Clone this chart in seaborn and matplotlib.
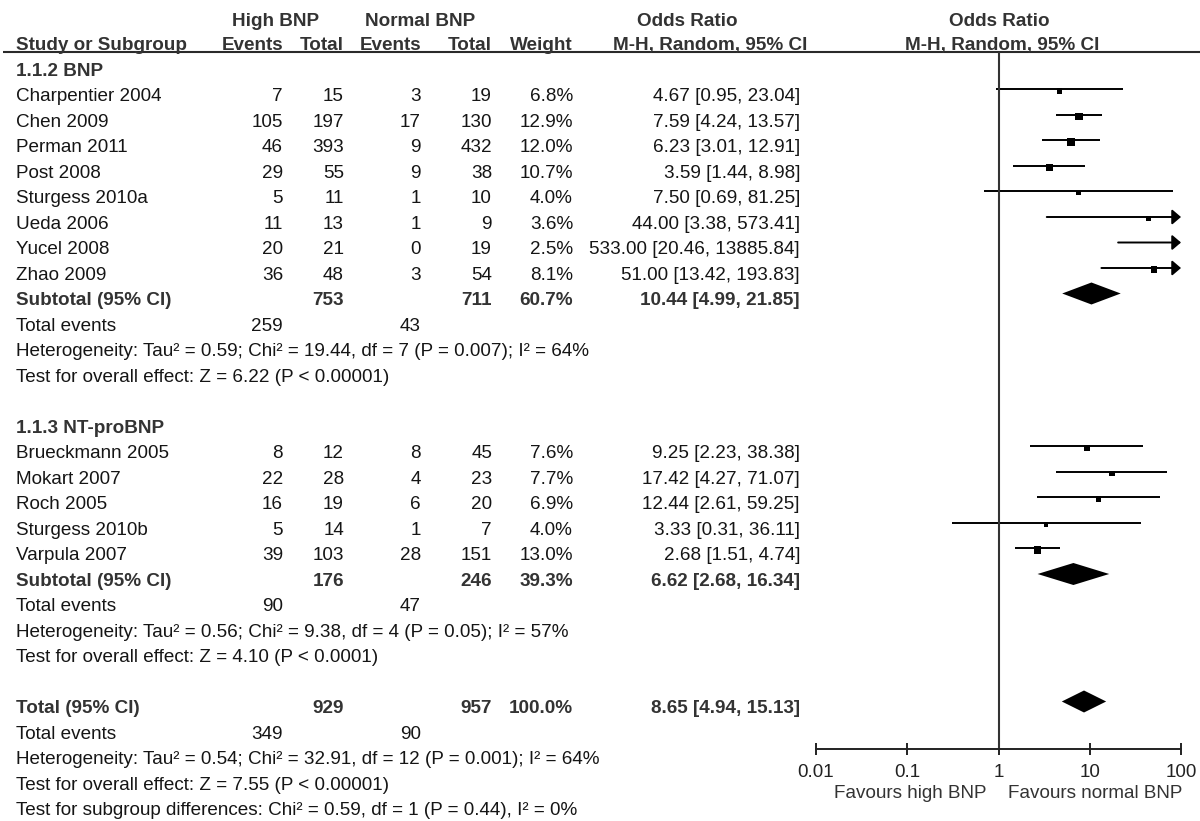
import numpy as np
import pandas as pd
import matplotlib
matplotlib.use("Agg")
import matplotlib.pyplot as plt
from matplotlib.ticker import NullLocator, FixedLocator, FixedFormatter
import seaborn as sns

# ---------------- data ----------------
bnp_studies = ["Charpentier 2004", "Chen 2009", "Perman 2011", "Post 2008",
               "Sturgess 2010a", "Ueda 2006", "Yucel 2008", "Zhao 2009"]
bnp_ev_high = [7, 105, 46, 29, 5, 11, 20, 36]
bnp_tot_high = [15, 197, 393, 55, 11, 13, 21, 48]
bnp_ev_norm = [3, 17, 9, 9, 1, 1, 0, 3]
bnp_tot_norm = [19, 130, 432, 38, 10, 9, 19, 54]
bnp_weight = [6.8, 12.9, 12.0, 10.7, 4.0, 3.6, 2.5, 8.1]
bnp_or = [4.67, 7.59, 6.23, 3.59, 7.50, 44.00, 533.00, 51.00]
bnp_lo = [0.95, 4.24, 3.01, 1.44, 0.69, 3.38, 20.46, 13.42]
bnp_hi = [23.04, 13.57, 12.91, 8.98, 81.25, 573.41, 13885.84, 193.83]

nt_studies = ["Brueckmann 2005", "Mokart 2007", "Roch 2005", "Sturgess 2010b", "Varpula 2007"]
nt_ev_high = [8, 22, 16, 5, 39]
nt_tot_high = [12, 28, 19, 14, 103]
nt_ev_norm = [8, 4, 6, 1, 28]
nt_tot_norm = [45, 23, 20, 7, 151]
nt_weight = [7.6, 7.7, 6.9, 4.0, 13.0]
nt_or = [9.25, 17.42, 12.44, 3.33, 2.68]
nt_lo = [2.23, 4.27, 2.61, 0.31, 1.51]
nt_hi = [38.38, 71.07, 59.25, 36.11, 4.74]

# subtotals: [BNP, NT-proBNP, Total]
sub_labels = ["Subtotal (95% CI)", "Subtotal (95% CI)", "Total (95% CI)"]
sub_tot_high = [753, 176, 929]
sub_tot_norm = [711, 246, 957]
sub_weight = ["60.7%", "39.3%", "100.0%"]
sub_or = [10.44, 6.62, 8.65]
sub_lo = [4.99, 2.68, 4.94]
sub_hi = [21.85, 16.34, 15.13]
sub_events_high = [259, 90, 349]
sub_events_norm = [43, 47, 90]
sub_het = ["Heterogeneity: Tau\u00b2 = 0.59; Chi\u00b2 = 19.44, df = 7 (P = 0.007); I\u00b2 = 64%",
           "Heterogeneity: Tau\u00b2 = 0.56; Chi\u00b2 = 9.38, df = 4 (P = 0.05); I\u00b2 = 57%",
           "Heterogeneity: Tau\u00b2 = 0.54; Chi\u00b2 = 32.91, df = 12 (P = 0.001); I\u00b2 = 64%"]
sub_test = ["Test for overall effect: Z = 6.22 (P < 0.00001)",
            "Test for overall effect: Z = 4.10 (P < 0.0001)",
            "Test for overall effect: Z = 7.55 (P < 0.00001)"]
subgroup_test = "Test for subgroup differences: Chi\u00b2 = 0.59, df = 1 (P = 0.44), I\u00b2 = 0%"
group_titles = ["1.1.2 BNP", "1.1.3 NT-proBNP"]

tick_values = [0.01, 0.1, 1, 10, 100]
tick_labels = ["0.01", "0.1", "1", "10", "100"]
favours_left = "Favours high BNP"
favours_right = "Favours normal BNP"

# ---------------- style ----------------
sns.set_theme(style="white")
plt.rcParams['font.family'] = ['Liberation Sans', 'DejaVu Sans']
FS = 13.6
C_REG = "#151515"
C_BOLD = "#333333"

W, H = 1200, 821
fig = plt.figure(figsize=(W / 100, H / 100), dpi=100)
fig.patch.set_facecolor("white")
ax_t = fig.add_axes([0, 0, 1, 1])
ax_t.set_xlim(0, W)
ax_t.set_ylim(H, 0)
ax_t.axis("off")

X0, X1 = 816, 1181
ax_f = fig.add_axes([X0 / W, 0, (X1 - X0) / W, 1])
ax_f.set_xscale("log")
ax_f.patch.set_alpha(0)

# column x positions (right aligned)
X_LABEL = 16
X_EH, X_TH, X_EN, X_TN, X_WT, X_OR = 283, 344, 421, 492, 573, 800


def base(k):
    return 75.8 + 25.5 * k


def mark_y(k):
    return 64.0 + 25.5 * k


def txt(x, y, s, ha="left", bold=False, color=None, size=FS):
    ax_t.text(x, y, s, ha=ha, va="baseline", fontsize=size,
              fontweight="bold" if bold else "normal",
              color=color or (C_BOLD if bold else C_REG))


# ---------------- header ----------------
txt(276, 26, "High BNP", ha="center", bold=True)
txt(420, 26, "Normal BNP", ha="center", bold=True)
txt(687, 26, "Odds Ratio", ha="center", bold=True)
txt(999, 26, "Odds Ratio", ha="center", bold=True)
hb = 49.8
txt(X_LABEL, hb, "Study or Subgroup", bold=True)
txt(X_EH, hb, "Events", ha="right", bold=True)
txt(X_TH, hb, "Total", ha="right", bold=True)
txt(X_EN, hb, "Events", ha="right", bold=True)
txt(X_TN, hb, "Total", ha="right", bold=True)
txt(X_WT, hb, "Weight", ha="right", bold=True)
txt(710, hb, "M-H, Random, 95% CI", ha="center", bold=True)
txt(1002, hb, "M-H, Random, 95% CI", ha="center", bold=True)
ax_t.plot([3, W], [51.7, 51.7], color="#2a2a2a", lw=1.5, solid_capstyle="butt")

# ---------------- rows ----------------
groups = [
    (bnp_studies, bnp_ev_high, bnp_tot_high, bnp_ev_norm, bnp_tot_norm,
     bnp_weight, bnp_or, bnp_lo, bnp_hi),
    (nt_studies, nt_ev_high, nt_tot_high, nt_ev_norm, nt_tot_norm,
     nt_weight, nt_or, nt_lo, nt_hi),
]
group_start = [0, 14]

pts = []
for gi, (names, eh, th, en, tn, wt, orr, lo, hi) in enumerate(groups):
    k0 = group_start[gi]
    txt(X_LABEL, base(k0), group_titles[gi], bold=True)
    for i in range(len(names)):
        k = k0 + 1 + i
        b = base(k)
        txt(X_LABEL, b, names[i])
        txt(X_EH, b, str(eh[i]), ha="right")
        txt(X_TH, b, str(th[i]), ha="right")
        txt(X_EN, b, str(en[i]), ha="right")
        txt(X_TN, b, str(tn[i]), ha="right")
        txt(X_WT, b, f"{wt[i]:.1f}%", ha="right")
        txt(X_OR, b, f"{orr[i]:.2f} [{lo[i]:.2f}, {hi[i]:.2f}]", ha="right")
        y = mark_y(k)
        if hi[i] > 100:
            ax_f.annotate("", xy=(100, y), xytext=(lo[i], y),
                          arrowprops=dict(arrowstyle="-|>,head_length=0.42,head_width=0.36",
                                          mutation_scale=12.5, lw=1.4, color="black",
                                          shrinkA=0, shrinkB=0),
                          annotation_clip=False)
        else:
            ax_f.plot([lo[i], hi[i]], [y, y], color="black", lw=1.4,
                      solid_capstyle="butt")
        pts.append({"or": orr[i], "y": y + 1.5, "weight": wt[i]})
    # subtotal
    ks = k0 + 1 + len(names)
    b = base(ks)
    txt(X_LABEL, b, sub_labels[gi], bold=True)
    txt(X_TH, b, str(sub_tot_high[gi]), ha="right", bold=True)
    txt(X_TN, b, str(sub_tot_norm[gi]), ha="right", bold=True)
    txt(X_WT, b, sub_weight[gi], ha="right", bold=True)
    txt(X_OR, b, f"{sub_or[gi]:.2f} [{sub_lo[gi]:.2f}, {sub_hi[gi]:.2f}]", ha="right", bold=True)
    y = mark_y(ks)
    ax_f.fill([sub_lo[gi], sub_or[gi], sub_hi[gi], sub_or[gi]],
              [y, y - 11, y, y + 11], color="black", lw=0)
    b = base(ks + 1)
    txt(X_LABEL, b, "Total events")
    txt(X_EH, b, str(sub_events_high[gi]), ha="right")
    txt(X_EN, b, str(sub_events_norm[gi]), ha="right")
    txt(X_LABEL, base(ks + 2), sub_het[gi])
    txt(X_LABEL, base(ks + 3), sub_test[gi])

# overall total
kt = 25
b = base(kt)
txt(X_LABEL, b, sub_labels[2], bold=True)
txt(X_TH, b, str(sub_tot_high[2]), ha="right", bold=True)
txt(X_TN, b, str(sub_tot_norm[2]), ha="right", bold=True)
txt(X_WT, b, sub_weight[2], ha="right", bold=True)
txt(X_OR, b, f"{sub_or[2]:.2f} [{sub_lo[2]:.2f}, {sub_hi[2]:.2f}]", ha="right", bold=True)
y = mark_y(kt)
ax_f.fill([sub_lo[2], sub_or[2], sub_hi[2], sub_or[2]],
          [y, y - 11, y, y + 11], color="black", lw=0)
b = base(kt + 1)
txt(X_LABEL, b, "Total events")
txt(X_EH, b, str(sub_events_high[2]), ha="right")
txt(X_EN, b, str(sub_events_norm[2]), ha="right")
txt(X_LABEL, base(kt + 2), sub_het[2])
txt(X_LABEL, base(kt + 3), sub_test[2])
txt(X_LABEL, base(kt + 4), subgroup_test)

# squares (size proportional to weight)
df = pd.DataFrame(pts)
sns.scatterplot(data=df, x="or", y="y", size="weight", sizes=(0, 240),
                size_norm=(0, 100), marker="s", color="black", linewidth=0,
                legend=False, ax=ax_f)

# line of no effect
AXIS_Y = 749
ax_f.plot([1, 1], [52.5, AXIS_Y], color="#333333", lw=1.5, solid_capstyle="butt")

ax_f.set_xlim(0.01, 100)
ax_f.set_ylim(H, 0)
ax_f.set_xlabel("")
ax_f.set_ylabel("")
for s in ["top", "left", "right"]:
    ax_f.spines[s].set_visible(False)
ax_f.spines["bottom"].set_position(("data", AXIS_Y))
ax_f.spines["bottom"].set_color("#222222")
ax_f.spines["bottom"].set_linewidth(1.4)
ax_f.xaxis.set_major_locator(FixedLocator(tick_values))
ax_f.xaxis.set_major_formatter(FixedFormatter(tick_labels))
ax_f.xaxis.set_minor_locator(NullLocator())
ax_f.set_yticks([])
ax_f.tick_params(axis="x", which="major", direction="inout", length=8.6, width=1.4,
                 color="#222222", labelsize=FS, labelcolor="#222222", pad=6.5, bottom=True)

txt(987, 798, favours_left, ha="right", color="#333333")
txt(1008, 798, favours_right, ha="left", color="#333333")

fig.savefig("out.png", dpi=100, facecolor="white")
